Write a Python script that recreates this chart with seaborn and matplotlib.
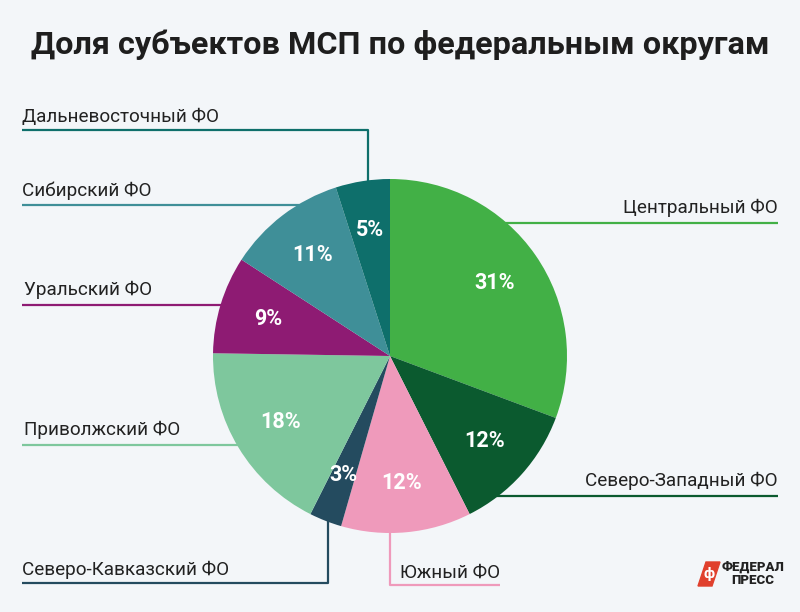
import matplotlib
matplotlib.use("Agg")
import matplotlib.pyplot as plt
from matplotlib.patches import Polygon
import seaborn as sns

# данные
districts = ["Центральный ФО", "Северо-Западный ФО", "Южный ФО", "Северо-Кавказский ФО",
             "Приволжский ФО", "Уральский ФО", "Сибирский ФО", "Дальневосточный ФО"]
shares = [31, 12, 12, 3, 18, 9, 11, 5]
colors = ["#42b046", "#0b5a2f", "#ef9abb", "#244b5f", "#7ec79d", "#8e1b73", "#3f8f98", "#0e6f6b"]

sns.set_theme(style="white")
plt.rcParams['font.family'] = ['Roboto', 'DejaVu Sans']

bg = "#f3f6f9"
fig = plt.figure(figsize=(8, 6.12), dpi=100, facecolor=bg)
ax = fig.add_axes([0, 0, 1, 1])
ax.set_facecolor(bg)

cx, cy, r = 390, 356, 177
total = sum(shares)
wedges, texts, autotexts = ax.pie(
    shares, colors=colors, startangle=-90, counterclock=True,
    center=(cx, cy), radius=r, pctdistance=0.72,
    autopct=lambda p: f"{round(p * total / 100)}%",
    wedgeprops=dict(linewidth=0), frame=True)
ax.set_xlim(0, 800)
ax.set_ylim(612, 0)
ax.set_aspect("equal")
ax.axis("off")
for t in autotexts:
    t.set_color("white")
    t.set_fontsize(15.5)
    t.set_fontweight("bold")

# подписи с выносками: (текст x, текст y, ha, линия)
callouts = {
    "Дальневосточный ФО": (22, 117, "left", [(22, 130), (368, 130), (368, 205)]),
    "Сибирский ФО": (22, 191, "left", [(22, 205), (315, 205)]),
    "Уральский ФО": (24, 290, "left", [(22, 305), (230, 305)]),
    "Приволжский ФО": (24, 430, "left", [(22, 445), (240, 445)]),
    "Северо-Кавказский ФО": (22, 570, "left", [(22, 583), (328, 583), (328, 520)]),
    "Южный ФО": (400, 573, "left", [(500, 585), (390, 585), (390, 530)]),
    "Северо-Западный ФО": (778, 481, "right", [(778, 496), (490, 496)]),
    "Центральный ФО": (778, 208, "right", [(778, 223), (500, 223)]),
}
for name, col in zip(districts, colors):
    tx, ty, ha, pts = callouts[name]
    ax.text(tx, ty, name, ha=ha, va="center", fontsize=13.6, color="#222222")
    xs, ys = zip(*pts)
    ax.plot(xs, ys, color=col, lw=1.6, zorder=0.5, solid_capstyle="butt")

ax.text(400, 45, "Доля субъектов МСП по федеральным округам", ha="center", va="center",
        fontsize=23.3, fontweight="bold", color="#1e1e1e")

# логотип
ax.add_patch(Polygon([(706, 562), (720, 562), (712, 586), (698, 586)], closed=True,
                     color="#e0402d", zorder=3))
ax.text(709, 574, "ф", color="white", fontsize=11, fontweight="bold", ha="center",
        va="center", zorder=4)
ax.text(722, 567, "ФЕДЕРАЛ", fontsize=9.5, fontweight="heavy", color="#222222", va="center")
ax.text(731, 581, "ПРЕСС", fontsize=9.5, fontweight="heavy", color="#222222", va="center")

fig.savefig("out.png", dpi=100, facecolor=bg)
